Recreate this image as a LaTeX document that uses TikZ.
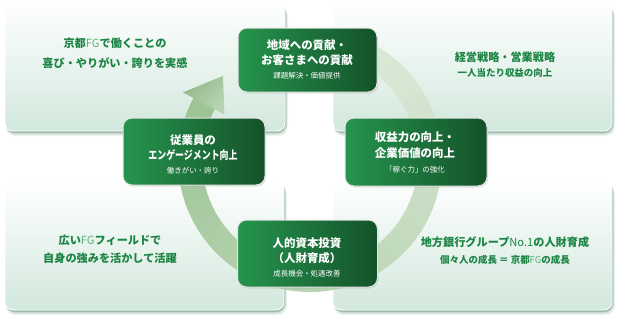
\documentclass[tikz,border=0pt]{standalone}
\usepackage{fontspec}
\setmainfont{Noto Sans CJK JP}
\usetikzlibrary{shadows}
\definecolor{gdark}{RGB}{20,82,42}
\definecolor{glight}{RGB}{38,148,78}
\definecolor{ptext}{RGB}{28,132,68}
\definecolor{pfg}{RGB}{95,178,122}
\definecolor{ringdark}{RGB}{155,194,146}
\definecolor{ringlight}{RGB}{228,239,226}
\definecolor{pbot}{RGB}{210,232,221}
\definecolor{shade}{RGB}{120,160,138}
\begin{document}
\begin{tikzpicture}[x=1bp,y=-1bp,
  panel/.style={rounded corners=8bp, top color=white!97!pbot, bottom color=pbot, draw=white, line width=0.8bp},
  pshadow/.style={fill=shade, rounded corners=9bp},
  gbox/.style={rounded corners=9bp, left color=glight, right color=gdark, draw=white!80!gray, line width=1bp, inner sep=0pt,
    drop shadow={shadow xshift=1bp, shadow yshift=-1.5bp, opacity=0.25, fill=shade}},
  ptxt/.style={text=ptext, font=\fontsize{11.2}{13}\selectfont\bfseries, inner sep=0pt},
  psub/.style={text=ptext, font=\fontsize{9.5}{11}\selectfont\bfseries, inner sep=0pt},
  gtxt/.style={text=white, font=\fontsize{11.5}{13}\selectfont\bfseries, inner sep=0pt},
  gsub/.style={text=white, font=\fontsize{7.5}{9}\selectfont, inner sep=0pt}
]
\useasboundingbox (0,0) rectangle (620,320);
\fill[white] (0,0) rectangle (620,320);
% panel shadows
\foreach \xa/\ya/\xb/\yb in {5/5/285/131, 333/5/612/131, 5/183/284/310, 333/183/612/310}{
  \fill[pshadow, opacity=0.12] (\xa+1,\ya+2) rectangle (\xb+3,\yb+5);
  \fill[pshadow, opacity=0.25] (\xa+1,\ya+1) rectangle (\xb+2,\yb+3.5);
  \fill[pshadow, opacity=0.55] (\xa+0.5,\ya+0.5) rectangle (\xb+1,\yb+2);
}
% panels
\path[panel] (5,5) rectangle (285,131);
\path[panel] (333,5) rectangle (612,131);
\path[panel] (5,183) rectangle (284,310);
\path[panel] (333,183) rectangle (612,310);
% ring
\foreach \a in {280,284,...,564}{
  \pgfmathtruncatemacro\p{8+(\a-280)/3.2}
  \draw[line width=24bp, color=ringdark!\p!ringlight] (310,160) ++(\a:120) arc[start angle=\a, end angle=\a+4.8, radius=120];
}
\coordinate (ctr) at (310,160);
\shade[left color=ringdark!95!black, right color=ringdark!70!white, shading angle=45]
  ([shift={(208:144)}]ctr) -- ([shift={(224:121)}]ctr) -- ([shift={(208:97)}]ctr) -- cycle;
% green boxes
\node[gbox, minimum width=139bp, minimum height=64bp] (top) at (307.5,60) {};
\node[gbox, minimum width=142bp, minimum height=67bp] (left) at (194,151.5) {};
\node[gbox, minimum width=142bp, minimum height=68bp] (right) at (416,152) {};
\node[gbox, minimum width=140bp, minimum height=67bp] (bottom) at (307.5,253.5) {};
% green box texts
\node[gtxt] (t1) at (307,45) {地域への貢献・};
\node[gtxt] (t2) at (307,60) {お客さまへの貢献};
\node[gsub] (t3) at (307,75.5) {課題解決・価値提供};
\node[gtxt] (l1) at (193,140) {従業員の};
\node[gtxt] (l2) at (193,155) {\scalebox{0.78}[1]{エンゲージメント向上}};
\node[gsub] (l3) at (193,170.5) {働きがい・誇り};
\node[gtxt] (r1) at (415,137.5) {収益力の向上・};
\node[gtxt] (r2) at (415,153) {企業価値の向上};
\node[gsub] (r3) at (415,170) {「稼ぐ力」の強化};
\node[gtxt] (b1) at (307,243) {人的資本投資};
\node[gtxt] (b2) at (307,258) {（人財育成）};
\node[gsub] (b3) at (307,273.5) {成長機会・処遇改善};
% panel texts
\node[ptxt] (tl1) at (115,43) {京都{\mdseries\color{pfg}FG}で働くことの};
\node[ptxt] (tl2) at (115,63) {喜び・やりがい・誇りを実感};
\node[ptxt] (tr1) at (505,57) {経営戦略・営業戦略};
\node[psub] (tr2) at (505,72.5) {一人当たり収益の向上};
\node[ptxt] (bl1) at (110,240) {広い{\mdseries\color{pfg}FG}フィールドで};
\node[ptxt] (bl2) at (110,258) {自身の強みを活かして活躍};
\node[ptxt] (br1) at (505,242) {地方銀行グループ{\mdseries No.1}の人財育成};
\node[psub] (br2) at (505,259.5) {個々人の成長 ＝ 京都{\mdseries\color{pfg}FG}の成長};
\end{tikzpicture}
\end{document}
